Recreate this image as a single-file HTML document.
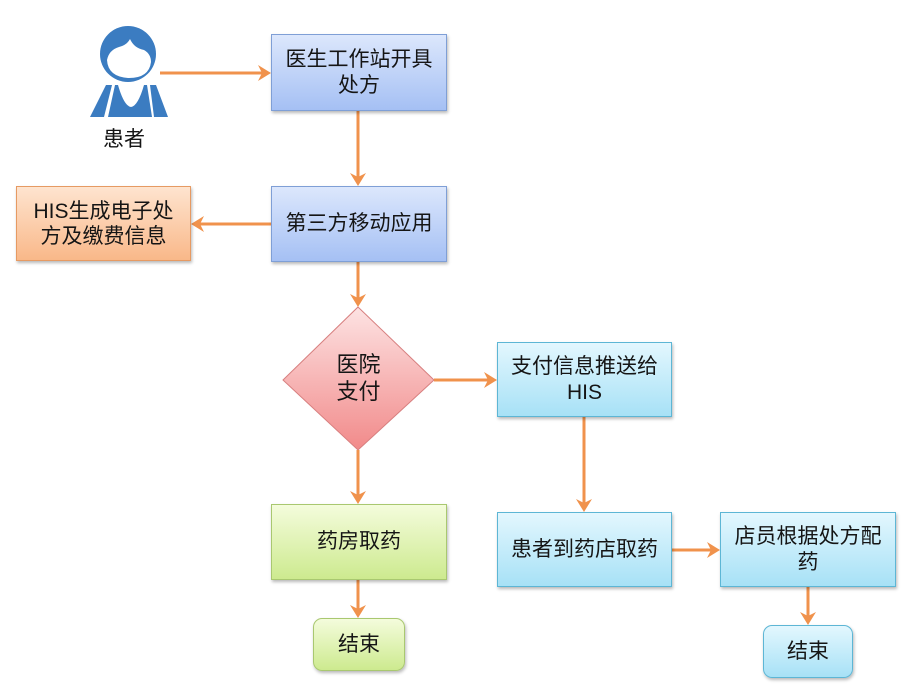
<!DOCTYPE html>
<html><head><meta charset="utf-8">
<style>
html,body{margin:0;padding:0;background:#fff;}
body{width:912px;height:688px;position:relative;overflow:hidden;font-family:"Liberation Sans","Noto Sans CJK SC",sans-serif;color:#151515;}
.b{position:absolute;box-sizing:border-box;display:flex;align-items:center;justify-content:center;text-align:center;font-size:21px;line-height:26px;box-shadow:1px 2px 3px rgba(0,0,0,0.28);}
.blue{background:linear-gradient(#dce7fc,#a5c0f4);border:1px solid #7f9fd6;}
.orange{background:linear-gradient(#fee4cf,#f9b889);border:1px solid #e69a63;}
.green{background:linear-gradient(#f4fcdc,#cdea8f);border:1px solid #a9c870;}
.cyan{background:linear-gradient(#e3f7fe,#a7e1f6);border:1px solid #5db6d5;}
.r{border-radius:9px;}
svg{position:absolute;left:0;top:0;}
.lbl{position:absolute;font-size:21px;}
</style></head><body>
<svg width="912" height="688" viewBox="0 0 912 688">
<defs>
<linearGradient id="pk" x1="0" y1="0" x2="0" y2="1">
<stop offset="0" stop-color="#fde3e3"/><stop offset="1" stop-color="#f18a8a"/>
</linearGradient>
</defs>
<!-- person icon -->
<g fill="#3b7cc1">
<circle cx="128" cy="54" r="28"/>
<path d="M106,85 L112,85 L104,117 L90,117 Z"/>
<path d="M150,85 L156,85 L168,117 L154,117 Z"/>
<path d="M115,85 L147,85 L152,117 L108,117 Z"/>
</g>
<path d="M118,85 L144,85 Q138,106 131,107 Q124,106 118,85 Z" fill="#fff"/>
<path d="M107,60 Q109,50 119,47 Q127,45 130,39 Q134,48 144,50 Q151,54 151,62 Q149,78 129,78 Q108,77 107,60 Z" fill="#fff"/>
<!-- diamond -->
<polygon points="358,307 434,380 358,450 283,380" fill="url(#pk)" stroke="#d77f7f" stroke-width="1"/>
<!-- arrows -->
<g stroke="#f0924c" stroke-width="3" fill="none">
<line x1="160" y1="73" x2="262" y2="73"/>
<line x1="358" y1="111" x2="358" y2="177"/>
<line x1="271" y1="224" x2="200" y2="224"/>
<line x1="358" y1="262" x2="358" y2="298"/>
<line x1="434" y1="380" x2="488" y2="380"/>
<line x1="358" y1="450" x2="358" y2="495"/>
<line x1="358" y1="580" x2="358" y2="609"/>
<line x1="584" y1="417" x2="584" y2="503"/>
<line x1="672" y1="550" x2="711" y2="550"/>
<line x1="808" y1="587" x2="808" y2="616"/>
</g>
<g fill="#f0924c">
<polygon points="271,73 258,65 262,73 258,81"/>
<polygon points="358,186 350,173 358,177 366,173"/>
<polygon points="191,224 204,216 200,224 204,232"/>
<polygon points="358,307 350,294 358,298 366,294"/>
<polygon points="497,380 484,372 488,380 484,388"/>
<polygon points="358,504 350,491 358,495 366,491"/>
<polygon points="358,618 350,605 358,609 366,605"/>
<polygon points="584,512 576,499 584,503 592,499"/>
<polygon points="720,550 707,542 711,550 707,558"/>
<polygon points="808,625 800,612 808,616 816,612"/>
</g>
</svg>
<div class="lbl" style="left:103px;top:123px;">患者</div>
<div class="b blue" style="left:271px;top:34px;width:176px;height:77px;">医生工作站开具<br>处方</div>
<div class="b blue" style="left:271px;top:186px;width:176px;height:76px;">第三方移动应用</div>
<div class="b orange" style="left:16px;top:186px;width:175px;height:75px;line-height:25px;">HIS生成电子处<br>方及缴费信息</div>
<div style="position:absolute;left:283px;top:351px;width:151px;text-align:center;font-size:22px;line-height:27px;">医院<br>支付</div>
<div class="b cyan" style="left:497px;top:342px;width:175px;height:75px;">支付信息推送给<br>HIS</div>
<div class="b green" style="left:271px;top:504px;width:176px;height:76px;">药房取药</div>
<div class="b green r" style="left:313px;top:618px;width:92px;height:53px;">结束</div>
<div class="b cyan" style="left:497px;top:512px;width:175px;height:75px;">患者到药店取药</div>
<div class="b cyan" style="left:720px;top:512px;width:176px;height:75px;">店员根据处方配<br>药</div>
<div class="b cyan r" style="left:763px;top:625px;width:90px;height:53px;">结束</div>
</body></html>
